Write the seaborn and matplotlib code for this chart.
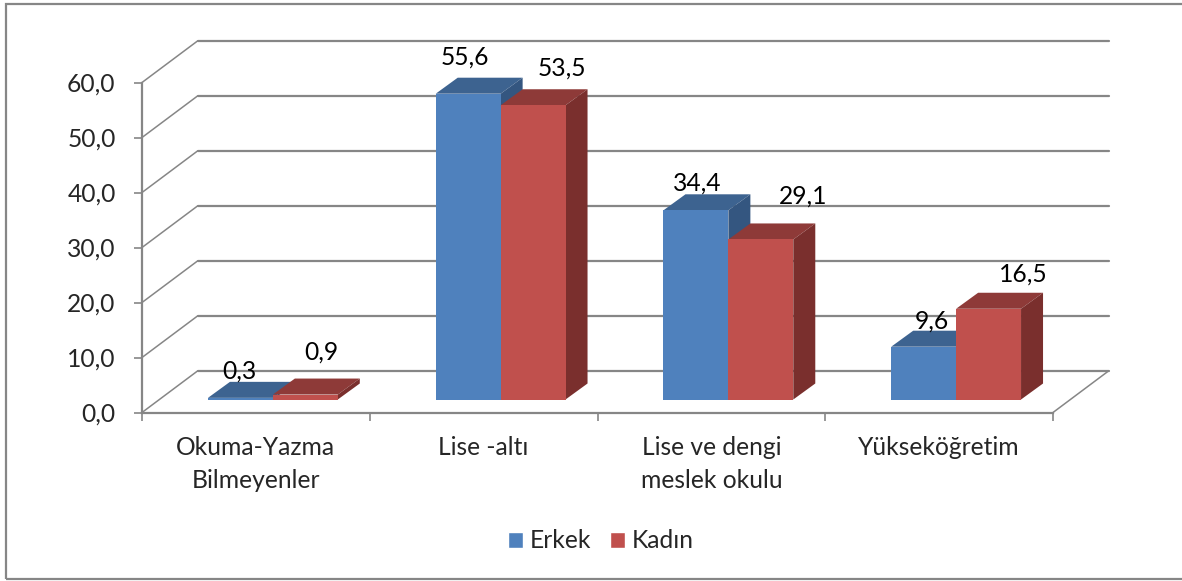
import matplotlib
matplotlib.use('Agg')
import matplotlib.pyplot as plt
from matplotlib.patches import Polygon, Rectangle
from matplotlib.ticker import FuncFormatter
import pandas as pd
import seaborn as sns

# Data
categories = ['Okuma-Yazma\nBilmeyenler', 'Lise -altı', 'Lise ve dengi\nmeslek okulu', 'Yükseköğretim']
erkek = [0.3, 55.6, 34.4, 9.6]
kadin = [0.9, 53.5, 29.1, 16.5]
y_ticks = [0, 10, 20, 30, 40, 50, 60]

# Label nudges in pixels from the top centre of each bar, Excel placed these by hand
erkek_nudge = [(-1, 27), (-3, 37), (1, 27), (8, 26)]
kadin_nudge = [(16, 42), (29, 37), (42, 43), (35, 35)]

colors = {'Erkek': '#4F81BD', 'Kadın': '#C0504D'}
top_colors = {'Erkek': '#3D6390', 'Kadın': '#8E3A38'}
side_colors = {'Erkek': '#345680', 'Kadın': '#7A2F2D'}
line_color = '#868686'

W, H = 1182, 581
left, right, y0, y60 = 142, 1053, 412.5, 82.5

sns.set_style('white')
plt.rcParams['font.family'] = ['Lato', 'DejaVu Sans']
plt.rcParams['font.size'] = 17.7

df = pd.DataFrame({
    'cat': categories * 2,
    'val': erkek + kadin,
    'sex': ['Erkek'] * 4 + ['Kadın'] * 4,
})

fig = plt.figure(figsize=(W / 100, H / 100), dpi=100)
ax = fig.add_axes([left / W, 1 - y0 / H, (right - left) / W, (y0 - y60) / H])
sns.barplot(data=df, x='cat', y='val', hue='sex', palette=colors, width=0.57, gap=0,
            saturation=1, ax=ax, legend=False, zorder=3)
ax.set_xlim(-0.5, 3.5)
ax.set_ylim(0, 60)
ax.autoscale(False)

# pixels to data units, the 3d look is all done with these
px_x = 4 / (right - left)
px_y = 60 / (y0 - y60)

wall_dx, wall_dy = 55.5 * px_x, 41.5 * px_y
shift_dx, shift_dy = 17 * px_x, 13 * px_y
depth_dx, depth_dy = 22 * px_x, 16 * px_y

# back wall gridlines and the diagonals running to them
for t in y_ticks:
    ax.plot([-0.5 + wall_dx, 3.5 + wall_dx], [t + wall_dy] * 2, color=line_color, lw=1.6,
            clip_on=False, zorder=1, solid_capstyle='round')
    ax.plot([-0.5, -0.5 + wall_dx], [t, t + wall_dy], color=line_color, lw=1.1,
            clip_on=False, zorder=1)
ax.plot([3.5, 3.5 + wall_dx], [0, wall_dy], color=line_color, lw=1.1, clip_on=False, zorder=1)

# move the bars back onto the floor and give them a top and a side
for i, (name, container) in enumerate(zip(['Erkek', 'Kadın'], ax.containers)):
    nudges = erkek_nudge if name == 'Erkek' else kadin_nudge
    for bar, nudge in zip(container, nudges):
        bar.set_x(bar.get_x() + shift_dx)
        bar.set_y(shift_dy)
        bar.set_clip_on(False)
        bar.set_linewidth(0)
        bar.set_zorder(3 + 2 * i)
        x0, x1 = bar.get_x(), bar.get_x() + bar.get_width()
        base, top = bar.get_y(), bar.get_y() + bar.get_height()
        ax.add_patch(Polygon([(x0, top), (x1, top), (x1 + depth_dx, top + depth_dy), (x0 + depth_dx, top + depth_dy)],
                             closed=True, fc=top_colors[name], ec='none', clip_on=False, zorder=2 + 2 * i))
        ax.add_patch(Polygon([(x1, base), (x1 + depth_dx, base + depth_dy), (x1 + depth_dx, top + depth_dy), (x1, top)],
                             closed=True, fc=side_colors[name], ec='none', clip_on=False, zorder=2 + 2 * i))
        ax.annotate(f'{bar.get_height():.1f}'.replace('.', ','), xy=((x0 + x1) / 2, top),
                    xytext=nudge, textcoords='offset pixels', ha='center', va='center',
                    annotation_clip=False, color='black', zorder=10)

# axes
for s in ['top', 'right']:
    ax.spines[s].set_visible(False)
for s in ['left', 'bottom']:
    ax.spines[s].set_color(line_color)
    ax.spines[s].set_linewidth(1.6)
ax.set_xlabel('')
ax.set_ylabel('')
ax.set_yticks(y_ticks)
ax.yaxis.set_major_formatter(FuncFormatter(lambda v, p: f'{v:.1f}'.replace('.', ',')))
ax.set_xticks(range(4), labels=categories, linespacing=1.5)
ax.set_xticks([-0.5, 0.5, 1.5, 2.5, 3.5], minor=True)
ax.tick_params(axis='x', which='major', length=0, pad=17)
ax.tick_params(axis='x', which='minor', length=6, width=1.2, color=line_color, bottom=True)
ax.tick_params(axis='y', length=6, width=1.2, color=line_color, pad=13, left=True)

# legend, built by hand so the swatches stay square
handles = [Rectangle((0, 0), 1, 1, fc=colors[k]) for k in colors]
fig.legend(handles, list(colors), loc='center', bbox_to_anchor=(601 / W, 1 - 541 / H), ncol=2, frameon=False,
           handlelength=0.61, handleheight=0.61, handletextpad=0.28, columnspacing=0.77)

# chart frame, its right edge falls outside the crop in the original
fig.add_artist(Rectangle((6 / W, 1 - 579 / H), 1190 / W, 575 / H, transform=fig.transFigure,
                         fc='none', ec=line_color, lw=1.6))

fig.savefig('out.png', dpi=100)
